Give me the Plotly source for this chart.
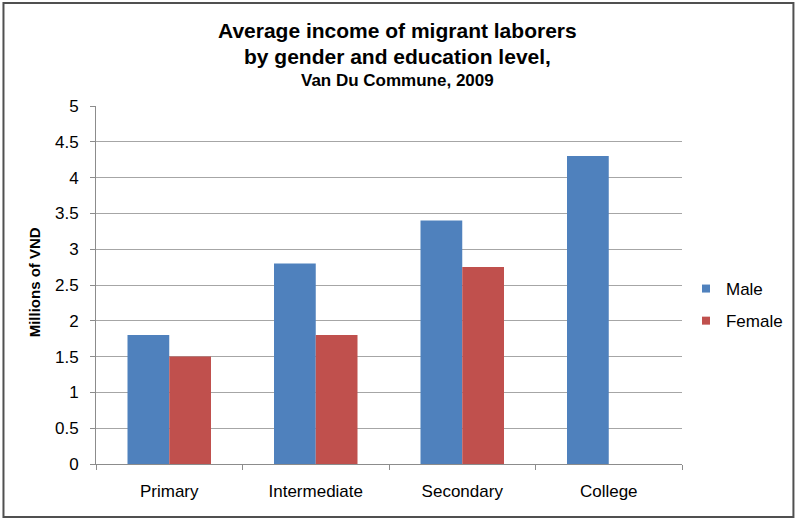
import plotly.graph_objects as go

# values (millions of VND)
levels = ['Primary', 'Intermediate', 'Secondary', 'College']
male = [1.8, 2.8, 3.4, 4.3]
female = [1.5, 1.8, 2.75, None]
yTicks = [0, 0.5, 1, 1.5, 2, 2.5, 3, 3.5, 4, 4.5, 5]
yLabels = ['0', '0.5', '1', '1.5', '2', '2.5', '3', '3.5', '4', '4.5', '5']

W = 800; H = 520
L = 96; R = 115; T = 106; B = 56
pw = W - L - R; ph = H - T - B
FONT = 'Liberation Sans, Arial, sans-serif'
BLUE = '#4F81BD'; RED = '#C0504D'


def px(x): return (x - L) / pw
def py(y): return (H - B - y) / ph


fig = go.Figure()
fig.add_trace(go.Bar(x=levels, y=male, name='Male', marker_color=BLUE, marker_line_width=0, showlegend=False))
fig.add_trace(go.Bar(x=levels, y=female, name='Female', marker_color=RED, marker_line_width=0, showlegend=False))
# small square legend keys, like the original
for name, col in (('Male', BLUE), ('Female', RED)):
    fig.add_trace(go.Scatter(x=[None], y=[None], mode='markers', name=name, legendgroup=name,
                             marker=dict(symbol='square', size=8, color=col)))

ann = [
    dict(text='<b>Average income of migrant laborers</b>', y=py(31), size=21),
    dict(text='<b>by gender and education level,</b>', y=py(57), size=21),
    dict(text='<b>Van Du Commune, 2009</b>', y=py(80), size=17),
]
for a in ann:
    fig.add_annotation(text=a['text'], xref='paper', yref='paper', x=px(399), y=a['y'],
                       showarrow=False, xanchor='center', yanchor='middle',
                       font=dict(family=FONT, size=a['size'], color='black'))

fig.add_annotation(text='<b>Millions of VND</b>', xref='paper', yref='paper', x=px(34), y=py(282),
                   textangle=-90, showarrow=False, xanchor='center', yanchor='middle',
                   font=dict(family=FONT, size=15, color='black'))

# outer frame of the chart
fig.add_shape(type='rect', xref='paper', yref='paper', x0=px(3), x1=px(W - 3), y0=py(H - 3), y1=py(3),
              line=dict(color='#505050', width=2), fillcolor='rgba(0,0,0,0)', layer='below')

fig.update_layout(
    width=W, height=H, margin=dict(l=L, r=R, t=T, b=B),
    paper_bgcolor='white', plot_bgcolor='white',
    barmode='group', bargap=0.43, bargroupgap=0,
    font=dict(family=FONT, size=17, color='black'),
    showlegend=True,
    legend=dict(x=px(689), y=py(305), xanchor='left', yanchor='middle', bgcolor='rgba(0,0,0,0)',
                font=dict(family=FONT, size=17), traceorder='grouped', tracegroupgap=7),
)
fig.update_xaxes(showline=True, linecolor='#8C8C8C', linewidth=1, ticks='outside', tickson='boundaries',
                 tickcolor='#8C8C8C', ticklen=5, showgrid=False, tickfont=dict(size=17),
                 ticklabelstandoff=12)
fig.update_yaxes(range=[0, 5], tickvals=yTicks, ticktext=yLabels, showline=True, linecolor='#8C8C8C',
                 linewidth=1, ticks='outside', tickcolor='#8C8C8C', ticklen=5, showgrid=True,
                 gridcolor='#A6A6A6', gridwidth=1, zeroline=False, tickfont=dict(size=17),
                 ticklabelstandoff=8)

fig.write_html('out.html', config={'displayModeBar': False},
               post_script="document.body.style.margin='0';")
